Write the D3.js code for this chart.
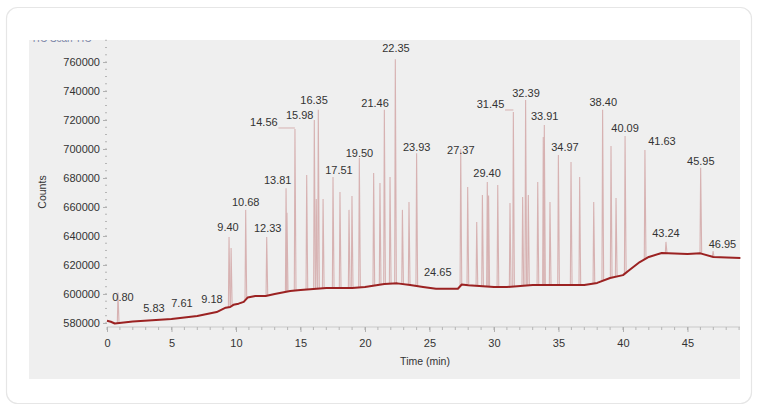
<!DOCTYPE html>
<html>
<head>
<meta charset="utf-8">
<script src="https://cdn.jsdelivr.net/npm/d3@7"></script>
<style>
  html, body { margin: 0; padding: 0; background: #ffffff; }
  svg { display: block; font-family: "Liberation Sans", Arial, sans-serif; }
</style>
</head>
<body>
<svg id="chart" width="757" height="406"></svg>
<script>
// ---- data ----
const baselineTimes  = [0, 0.3, 0.6, 2, 5, 7, 8.5, 9.2, 9.55, 9.8, 10.2, 10.6, 10.9, 11.5, 12.3, 13, 14.2, 15, 17, 19, 20, 21.5, 22.5, 23.5, 24.5, 25.5, 27.2, 27.5, 28, 30, 31, 33, 35, 37, 38, 39, 40, 40.5, 41.3, 42, 43, 45, 46, 47, 49.1];
const baselineCounts = [581500, 580800, 579600, 581000, 582800, 584800, 587500, 590500, 591000, 592500, 593300, 594500, 597500, 598600, 598600, 600000, 602000, 602700, 604100, 604100, 604800, 606900, 607300, 606200, 604800, 603600, 603600, 606500, 606000, 604800, 604800, 606200, 606200, 606200, 607600, 611000, 613000, 616500, 622000, 625500, 628300, 627600, 628000, 625500, 624800];

const peakTimes  = [0.85, 9.46, 9.62, 10.75, 12.38, 13.88, 13.95, 14.57, 15.48, 16.07, 16.22, 16.38, 16.75, 17.52, 18.06, 18.76, 18.99, 19.56, 20.67, 21.16, 21.50, 21.94, 22.35, 22.90, 23.41, 24.00, 27.42, 27.96, 28.66, 29.10, 29.48, 29.58, 30.29, 31.24, 31.50, 32.22, 32.45, 32.66, 33.39, 33.82, 33.90, 34.34, 34.99, 35.97, 36.64, 37.73, 38.42, 39.07, 39.46, 40.16, 41.70, 43.33, 46.02, 46.98];
const peakCounts = [601000, 639300, 631700, 658000, 639300, 673000, 656000, 713800, 682000, 720000, 665500, 727000, 665500, 680700, 670300, 658000, 667600, 693800, 683400, 676500, 727000, 680700, 762000, 658000, 663400, 697000, 700000, 673800, 649700, 668300, 677200, 668000, 675200, 662800, 725500, 666900, 733800, 668300, 677200, 708300, 716500, 663400, 695900, 691000, 680700, 663400, 727000, 702000, 666200, 709000, 699300, 635900, 687000, 629500];

const labelTexts  = ["0.80", "5.83", "7.61", "9.18", "9.40", "10.68", "12.33", "13.81", "14.56", "15.98", "16.35", "17.51", "19.50", "21.46", "22.35", "23.93", "24.65", "27.37", "29.40", "31.45", "32.39", "33.91", "34.97", "38.40", "40.09", "41.63", "43.24", "45.95", "46.95"];
const labelTimes  = [1.24, 3.64, 5.81, 8.14, 9.38, 10.75, 12.46, 13.23, 12.16, 14.94, 16.05, 17.98, 19.57, 20.78, 22.40, 24.01, 25.64, 27.43, 29.46, 29.73, 32.48, 33.93, 35.50, 38.47, 40.16, 43.02, 43.33, 46.03, 47.71];
const labelCounts = [597900, 590300, 593760, 596520, 646190, 663440, 645500, 678620, 718630, 723460, 733810, 685510, 697450, 731740, 769690, 701380, 615140, 699310, 683440, 731050, 738640, 722770, 701380, 732430, 714700, 705730, 642050, 691930, 634460];

// leader lines: label text -> peak time it points to
const leaderLabels = ["14.56", "31.45"];
const leaderPeaks  = [14.57, 31.50];

const yTicks = [580000, 600000, 620000, 640000, 660000, 680000, 700000, 720000, 740000, 760000];
const xTicks = [0, 5, 10, 15, 20, 25, 30, 35, 40, 45];
const xTitle = "Time (min)";
const yTitle = "Counts";

// ---- drawing ----
const svg = d3.select("#chart");

// card
svg.append("rect")
  .attr("x", 6.5).attr("y", 7.5).attr("width", 745).attr("height", 396)
  .attr("rx", 11).attr("fill", "#ffffff").attr("stroke", "#e6e6e6").attr("stroke-width", 1.2);

// grey panel
svg.append("rect")
  .attr("x", 29).attr("y", 40).attr("width", 711).attr("height", 339)
  .attr("fill", "#efefef");

// clipped header text remnant at top of panel
svg.append("clipPath").attr("id", "panelclip")
  .append("rect").attr("x", 29).attr("y", 40).attr("width", 711).attr("height", 339);
svg.append("text")
  .attr("clip-path", "url(#panelclip)")
  .attr("x", 31).attr("y", 41.5).attr("font-size", 10).attr("fill", "#7c86a8")
  .text("TIC Scan   TIC");

const x = d3.scaleLinear().domain([0, 49.07]).range([107, 740]);
const y = d3.scaleLinear().domain([577200, 775200]).range([327, 40]);

const baseAt = t => {
  const i = d3.bisectRight(baselineTimes, t);
  if (i <= 0) return baselineCounts[0];
  if (i >= baselineTimes.length) return baselineCounts[baselineCounts.length - 1];
  const t0 = baselineTimes[i - 1], t1 = baselineTimes[i];
  return d3.interpolateNumber(baselineCounts[i - 1], baselineCounts[i])((t - t0) / (t1 - t0));
};

// axes
const xMinor = d3.range(0, 50, 1);
const yMinor = d3.range(580000, 775001, 5000);

const gx = svg.append("g").attr("transform", "translate(0,327)");
gx.append("line").attr("x1", 107).attr("x2", 740).attr("stroke", "#c9c9c9");
gx.selectAll("line.minor").data(xMinor).join("line").attr("class", "minor")
  .attr("x1", d => x(d)).attr("x2", d => x(d)).attr("y1", 0).attr("y2", 3).attr("stroke", "#b5b5b5");
gx.call(d3.axisBottom(x).tickValues(xTicks).tickFormat(d3.format("d")).tickSize(5).tickPadding(7))
  .call(g => g.select(".domain").remove())
  .call(g => g.selectAll(".tick line").attr("stroke", "#b0b0b0"))
  .call(g => g.selectAll(".tick text").attr("font-size", 11).attr("fill", "#333").attr("font-family", "Liberation Sans, Arial, sans-serif"));

const gy = svg.append("g").attr("transform", "translate(107,0)");
gy.selectAll("line.minor").data(yMinor).join("line").attr("class", "minor")
  .attr("x1", -2).attr("x2", 0).attr("y1", d => y(d)).attr("y2", d => y(d)).attr("stroke", "#b5b5b5");
gy.call(d3.axisLeft(y).tickValues(yTicks).tickFormat(d3.format("d")).tickSize(4).tickPadding(3))
  .call(g => g.select(".domain").remove())
  .call(g => g.selectAll(".tick line").attr("stroke", "#b0b0b0"))
  .call(g => g.selectAll(".tick text").attr("font-size", 11).attr("fill", "#333").attr("font-family", "Liberation Sans, Arial, sans-serif"));

svg.append("text").attr("x", 425).attr("y", 365).attr("text-anchor", "middle")
  .attr("font-size", 10.5).attr("fill", "#333").text(xTitle);
svg.append("text").attr("transform", "translate(46,192) rotate(-90)").attr("text-anchor", "middle")
  .attr("font-size", 10.5).attr("fill", "#333").text(yTitle);

// peaks (thin spikes)
const peaks = peakTimes.map((t, i) => ({ t, v: peakCounts[i] }));
const spike = d3.line().x(d => x(d[0])).y(d => y(d[1]));
svg.append("g").selectAll("path").data(peaks).join("path")
  .attr("d", p => spike([[p.t - 0.05, baseAt(p.t - 0.05)], [p.t, p.v], [p.t + 0.08, baseAt(p.t + 0.08)]]))
  .attr("fill", "none").attr("stroke", "#d7b2b2").attr("stroke-width", 1.1);

// baseline
const base = baselineTimes.map((t, i) => [t, baselineCounts[i]]);
svg.append("path").datum(base)
  .attr("d", d3.line().x(d => x(d[0])).y(d => y(d[1])))
  .attr("fill", "none").attr("stroke", "#9b2222").attr("stroke-width", 2)
  .attr("stroke-linejoin", "round");

// labels
svg.append("g").selectAll("text").data(labelTexts).join("text")
  .attr("x", (d, i) => x(labelTimes[i])).attr("y", (d, i) => y(labelCounts[i]))
  .attr("dy", "0.35em").attr("text-anchor", "middle")
  .attr("font-size", 11).attr("fill", "#333").text(d => d);

// leader lines
leaderLabels.forEach((lab, k) => {
  const i = labelTexts.indexOf(lab);
  const lx = x(labelTimes[i]) + 14.5, ly = y(labelCounts[i]) + 6;
  svg.append("line").attr("x1", lx).attr("x2", x(leaderPeaks[k])).attr("y1", ly).attr("y2", ly)
    .attr("stroke", "#d7b2b2").attr("stroke-width", 1);
});
</script>
</body>
</html>
